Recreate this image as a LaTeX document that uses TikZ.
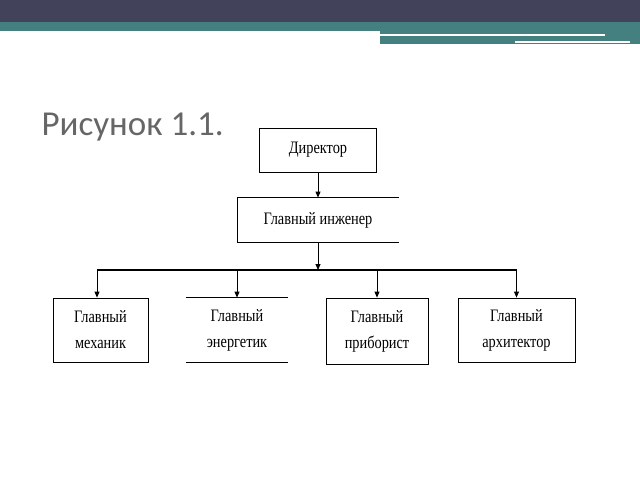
\documentclass[tikz,border=0pt]{standalone}
\usepackage{fontspec}
\setmainfont{Liberation Serif}
\newfontfamily\boxfont[FakeStretch=0.82]{Liberation Serif}
\newfontfamily\titlefont{Carlito}
\usetikzlibrary{arrows.meta}
\definecolor{bardark}{HTML}{42425A}
\definecolor{barteal}{HTML}{44807F}
\tikzset{
	post/.style={draw,line width=0.8pt,minimum height=44pt,align=center,font=\boxfont\fontsize{17.5}{26}\selectfont,inner sep=2pt},
	link/.style={-{Triangle[length=6pt,width=5pt]},line width=0.8pt}
}
\begin{document}
\begin{tikzpicture}[x=1pt,y=-1pt]
	\useasboundingbox (0,0) rectangle (640,480);
	% header bars
	\fill[bardark] (0,0) rectangle (640,22);
	\fill[barteal] (0,22) rectangle (640,31);
	\fill[barteal] (380,31) rectangle (640,44);
	\fill[white] (380,34) rectangle (605,36);
	\fill[white] (515,41) rectangle (630,43);
	\node[anchor=base west,text=black!60,font=\titlefont\fontsize{35}{37}\selectfont] (title) at (38,135) {Рисунок 1.1.};

	\node[post,minimum width=117pt] (dir) at (318,150) {Директор};
	\node[post,minimum width=161pt,draw=none] (eng) at (318,220) {Главный инженер};
	\draw[line width=0.8pt] (eng.north east) -- (eng.north west) -- (eng.south west) -- (eng.south east);

	\node[post,minimum width=95pt,minimum height=64pt] (mech) at (100.5,330) {Главный\\механик};
	\node[post,minimum width=102pt,minimum height=64pt,draw=none] (ener) at (237,330) {Главный\\энергетик};
	\draw[line width=0.8pt] (ener.north west) -- (ener.north east) (ener.south west) -- (ener.south east);
	\node[post,minimum width=102pt,minimum height=66pt] (prib) at (377,331) {Главный\\приборист};
	\node[post,minimum width=117pt,minimum height=64pt] (arch) at (516.5,330) {Главный\\архитектор};

	\coordinate (busL) at (97,270);
	\coordinate (busR) at (516.5,270);
	\draw[line width=1.6pt] (busL) -- (busR);
	\draw[link] (dir) -- (eng);
	\draw[link] (eng.south) -- (318,270);
	\draw[link] (busL) -- (busL |- mech.north);
	\draw[link] (237,270) -- (ener.north);
	\draw[link] (377,270) -- (prib.north);
	\draw[link] (busR) -- (arch.north);
\end{tikzpicture}
\end{document}
